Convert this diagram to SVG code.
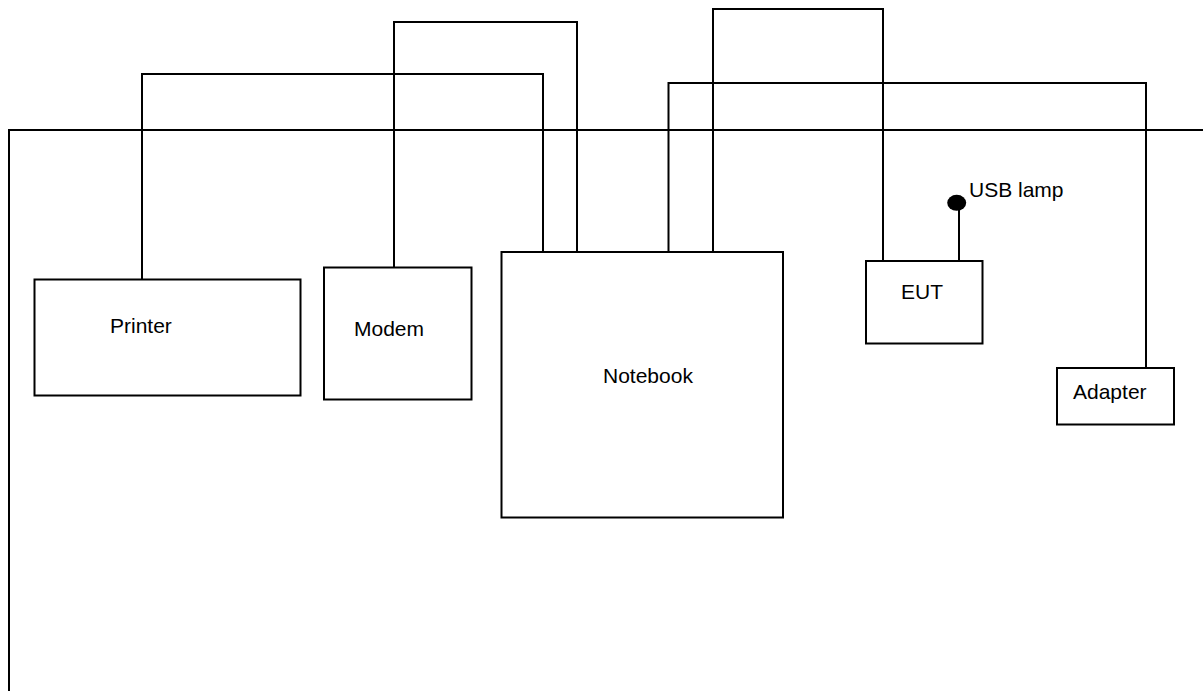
<svg xmlns="http://www.w3.org/2000/svg" width="1203" height="691" viewBox="0 0 1203 691">
<style>
.box{fill:#fff;stroke:#000;stroke-width:2}
.wire{fill:none;stroke:#000;stroke-width:2}
.lbl{font-family:"Liberation Sans",Arial,sans-serif;font-size:21px;fill:#000}
</style>
<rect width="1203" height="691" fill="#fff"/>
<g id="connectors">
<path class="wire" d="M9,691 V130 H1203"/>
<path class="wire" d="M142,279 V74 H543 V252"/>
<path class="wire" d="M394,267 V22 H577 V252"/>
<path class="wire" d="M713,252 V9 H883 V261"/>
<path class="wire" d="M668.5,252 V83 H1146 V368"/>
<path class="wire" d="M959,261 V205"/>
</g>
<g id="printer">
<rect class="box" x="34.5" y="279.5" width="266" height="116"/>
<text class="lbl" x="110" y="333">Printer</text>
</g>
<g id="modem">
<rect class="box" x="324" y="267.5" width="147.5" height="132"/>
<text class="lbl" x="354" y="335.5">Modem</text>
</g>
<g id="notebook">
<rect class="box" x="501.5" y="252" width="281.5" height="265.5"/>
<text class="lbl" x="603" y="382.5">Notebook</text>
</g>
<g id="eut">
<rect class="box" x="866" y="261" width="116.5" height="82.5"/>
<text class="lbl" x="901" y="299">EUT</text>
</g>
<g id="adapter">
<rect class="box" x="1057" y="368" width="117" height="56.5"/>
<text class="lbl" x="1073" y="399">Adapter</text>
</g>
<g id="usb-lamp">
<ellipse cx="956.7" cy="202.8" rx="9.5" ry="8" fill="#000"/>
<text class="lbl" x="969" y="196.7">USB lamp</text>
</g>
</svg>
